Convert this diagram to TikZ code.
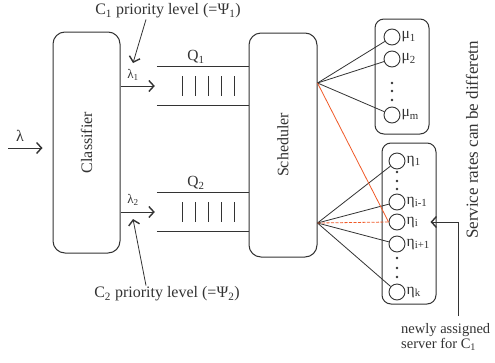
\documentclass[tikz,border=0pt]{standalone}
\usepackage{fontspec}
\setmainfont{Liberation Serif}
\usepackage{xcolor}
\usetikzlibrary{arrows.meta}
\definecolor{QSInk}{HTML}{333333}
\definecolor{QSRed}{HTML}{F05A28}

\begin{document}
\begin{tikzpicture}[x=1pt,y=-1pt,
  box/.style={draw=QSInk,line width=1pt,rounded corners=12pt,inner sep=0pt},
  pool/.style={draw=QSInk,line width=1pt,rounded corners=9pt,inner sep=0pt,minimum width=54pt},
  srv/.style={draw=QSInk,line width=.9pt,circle,minimum size=16pt,inner sep=0pt},
  lbl/.style={font=\fontsize{15.5}{16}\selectfont,text=QSInk,inner sep=1pt},
  link/.style={QSInk,line width=.8pt},
  hot/.style={QSRed,line width=.8pt},
  tip/.style={-{Straight Barb[length=5pt,width=11pt,line width=1.4pt]}}]
\path[use as bounding box] (0,0) rectangle (495,362);
\fill[white] (0,0) rectangle (495,362);
% classifier and scheduler
\node[box,minimum width=67pt,minimum height=221pt] (classifier) at (86.5,142.5) {};
\node[lbl,rotate=90,font=\fontsize{16}{17}\selectfont] (classtext) at (classifier) {Classifier};
\node[box,minimum width=68pt,minimum height=224pt] (scheduler) at (283,145) {};
\node[lbl,rotate=90,font=\fontsize{16}{17}\selectfont] (schedtext) at (scheduler) {Scheduler};
% queues
\node[minimum width=92pt,minimum height=38pt,inner sep=0pt] (q1) at (203,86) {};
\node[minimum width=92pt,minimum height=38pt,inner sep=0pt] (q2) at (203,212) {};
\foreach \q in {q1,q2} {
  \draw[link,line width=1pt] (\q.north west) -- (\q.north east);
  \draw[link,line width=1pt] (\q.south west) -- (\q.south east);
  \foreach \x in {-21,-8,5,18,31}
    \draw[link,line width=1pt] ([xshift=\x pt,yshift=10pt]\q.center) -- ([xshift=\x pt,yshift=-10pt]\q.center);
}
\node[lbl] (q1lab) at (196,57) {Q\textsubscript{1}};
\node[lbl] (q2lab) at (196,183) {Q\textsubscript{2}};
% arrivals
\coordinate (src) at (8,148);
\draw[link,tip] (src) -- ([xshift=-10pt]classifier.west |- src);
\node[lbl,font=\fontsize{16}{17}\selectfont] (lam) at (20,136) {λ};
\draw[link,tip] (classifier.east |- q1) -- ([xshift=-2pt]q1.west);
\draw[link,tip] (classifier.east |- q2) -- ([xshift=-2pt]q2.west);
\node[lbl,font=\fontsize{13}{14}\selectfont] (lam1) at (133,75) {λ\textsubscript{1}};
\node[lbl,font=\fontsize{13}{14}\selectfont] (lam2) at (133,200) {λ\textsubscript{2}};
% priority levels
\node[lbl,font=\fontsize{16}{17}\selectfont] (c1lab) at (168,11) {C\textsubscript{1} priority level (=Ψ\textsubscript{1})};
\coordinate (c1tip) at (133,63);
\draw[link,tip] ([xshift=-22pt]c1lab.south) -- (c1tip);
\node[lbl,font=\fontsize{16}{17}\selectfont] (c2lab) at (167,294) {C\textsubscript{2} priority level (=Ψ\textsubscript{2})};
\coordinate (c2tip) at (133,219);
\draw[link,tip] ([xshift=-21pt]c2lab.north) -- (c2tip);
% server pools
\node[pool,minimum height=115pt] (mubox) at (402,76.5) {};
\node[pool,minimum height=161pt] (etabox) at (409,223.5) {};
\node[srv] (mu1) at (392,37) {};
\node[srv] (mu2) at (392,59) {};
\node[srv] (mum) at (392,115) {};
\node[lbl,anchor=west] (mu1lab) at (mu1.east) {μ\textsubscript{1}};
\node[lbl,anchor=west] (mu2lab) at (mu2.east) {μ\textsubscript{2}};
\node[lbl,anchor=west] (mumlab) at (mum.east) {μ\textsubscript{m}};
\foreach \y in {83,91,100} \fill[QSInk] (392,\y) circle (1.3pt);
\node[srv] (eta1) at (397,161) {};
\node[srv] (etaim) at (397,202) {};
\node[srv] (etai) at (397,222) {};
\node[srv] (etaip) at (397,244) {};
\node[srv] (etak) at (397,292) {};
\node[lbl,anchor=west] (eta1lab) at (eta1.east) {η\textsubscript{1}};
\node[lbl,anchor=west] (etaimlab) at (etaim.east) {η\textsubscript{i-1}};
\node[lbl,anchor=west] (etailab) at (etai.east) {η\textsubscript{i}};
\node[lbl,anchor=west] (etaiplab) at (etaip.east) {η\textsubscript{i+1}};
\node[lbl,anchor=west] (etaklab) at (etak.east) {η\textsubscript{k}};
\foreach \y in {172,181,189,258,268,277} \fill[QSInk] (397,\y) circle (1.3pt);
% dispatch lines
\coordinate (fanmu) at (scheduler.east |- 0,83);
\coordinate (faneta) at (scheduler.east |- 0,223);
\foreach \s in {mu1,mu2,mum} \draw[link] (fanmu) -- (\s);
\foreach \s in {eta1,etaim,etaip,etak} \draw[link] (faneta) -- (\s);
\draw[hot] (fanmu) -- (etai.west);
\draw[hot,dashed,dash pattern=on 3pt off 1.5pt] (faneta) -- (etai.west);
% notes
\node[lbl,anchor=north west,align=left,font=\fontsize{14.5}{15}\selectfont] (newlab) at (400,322) {newly assigned\\server for C\textsubscript{1}};
\draw[link,tip] (458,316) |- ([xshift=-6pt]etabox.east |- etai);
\node[lbl,rotate=90,font=\fontsize{17}{18}\selectfont] (ratelab) at (472,140) {Service rates can be differetn};
\end{tikzpicture}
\end{document}
